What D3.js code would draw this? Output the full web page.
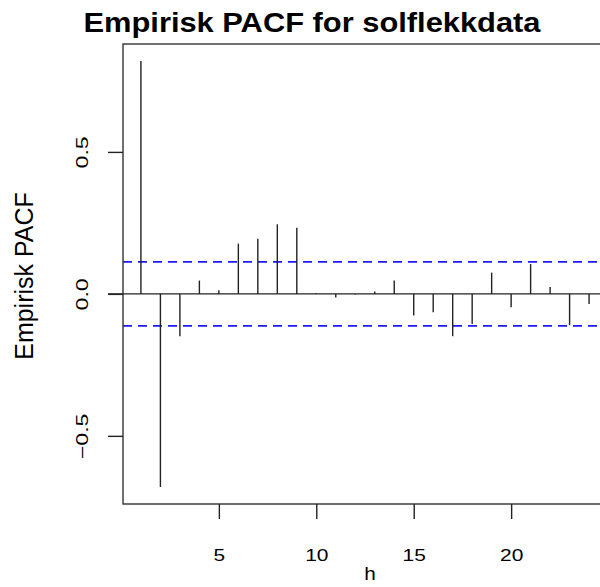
<!DOCTYPE html>
<html>
<head>
<meta charset="utf-8">
<script src="https://cdn.jsdelivr.net/npm/d3@7"></script>
<style>
  body { margin: 0; background: #fff; }
  svg { display: block; }
  text { font-family: "Liberation Sans", Arial, sans-serif; fill: #000; }
</style>
</head>
<body>
<div id="chart"></div>
<script>
// Empirisk PACF for solflekkdata — R style PACF spike plot
const lags = d3.range(1, 25);
const pacf = [0.820, -0.680, -0.149, 0.047, 0.013, 0.177, 0.194, 0.245, 0.233, 0.002,
              -0.013, -0.002, 0.008, 0.047, -0.076, -0.065, -0.149, -0.106, 0.075, -0.047,
              0.105, 0.024, -0.110, -0.036];
const confBound = 0.1127;
const xTicks = [5, 10, 15, 20];
const yTicks = [-0.5, 0.0, 0.5];

(function(){
  const width = 600, height = 587;
  const box = {left: 123, top: 44, bottom: 504};

  const svg = d3.select("#chart").append("svg")
    .attr("width", width)
    .attr("height", height);

  // R style 4% axis extension
  const xr = d3.extent(lags), yr = d3.extent(pacf);
  const xPad = 0.04 * (xr[1] - xr[0]), yPad = 0.04 * (yr[1] - yr[0]);
  const x = d3.scaleLinear()
    .domain([xr[0] - xPad, xr[1] + xPad])
    .range([box.left, 607]);
  const y = d3.scaleLinear()
    .domain([yr[0] - yPad, yr[1] + yPad])
    .range([box.bottom, box.top]);

  // stretch text horizontally like the reference bitmap
  function stretch(sel, k) {
    sel.each(function(){
      const w = this.getComputedTextLength();
      d3.select(this).attr("textLength", w * k).attr("lengthAdjust", "spacingAndGlyphs");
    });
  }

  // zero line (extends past the box to the left)
  svg.append("line")
    .attr("x1", box.left - 15).attr("x2", width + 10)
    .attr("y1", y(0)).attr("y2", y(0))
    .attr("stroke", "#222").attr("stroke-width", 1.4);

  // confidence bounds
  [confBound, -confBound].forEach(v => {
    svg.append("line")
      .attr("x1", box.left).attr("x2", width + 10)
      .attr("y1", y(v)).attr("y2", y(v))
      .attr("stroke", "#1a1aff").attr("stroke-width", 1.6)
      .attr("stroke-dasharray", "9,6");
  });

  // spikes
  svg.selectAll(".spike")
    .data(lags.map((h, i) => ({h, v: pacf[i]})))
    .join("line")
    .attr("class", "spike")
    .attr("x1", d => x(d.h)).attr("x2", d => x(d.h))
    .attr("y1", y(0)).attr("y2", d => y(d.v))
    .attr("stroke", "#222").attr("stroke-width", 1.4);

  // box
  svg.append("rect")
    .attr("x", box.left).attr("y", box.top)
    .attr("width", x.range()[1] - box.left)
    .attr("height", box.bottom - box.top)
    .attr("fill", "none").attr("stroke", "#333").attr("stroke-width", 1.4);

  // x axis
  const xAxis = svg.append("g")
    .attr("transform", `translate(0,${box.bottom})`)
    .call(d3.axisBottom(x).tickValues(xTicks).tickFormat(d3.format("d")).tickSize(15).tickPadding(0));
  xAxis.select(".domain").remove();
  xAxis.selectAll(".tick line").attr("stroke", "#222").attr("stroke-width", 1.4);
  xAxis.selectAll(".tick text")
    .attr("y", 57).attr("dy", null)
    .style("font-family", "Liberation Sans, Arial, sans-serif")
    .style("font-size", "16.5px").attr("fill", "#1a1a1a")
    .call(stretch, 1.27);

  // y axis
  const yAxis = svg.append("g")
    .attr("transform", `translate(${box.left},0)`)
    .call(d3.axisLeft(y).tickValues(yTicks).tickFormat(d3.format(".1f")).tickSize(15).tickPadding(0));
  yAxis.select(".domain").remove();
  yAxis.selectAll(".tick line").attr("stroke", "#222").attr("stroke-width", 1.4);
  yAxis.selectAll(".tick text")
    .attr("x", null).attr("dy", null)
    .attr("text-anchor", "middle")
    .attr("transform", "translate(-35,0) rotate(-90)")
    .style("font-family", "Liberation Sans, Arial, sans-serif")
    .style("font-size", "16.5px").attr("fill", "#1a1a1a")
    .call(stretch, 1.4);

  // axis titles
  svg.append("text")
    .attr("x", 370).attr("y", 580)
    .attr("text-anchor", "middle")
    .attr("fill", "#1a1a1a")
    .style("font-size", "18.5px")
    .text("h")
    .call(stretch, 1.12);

  svg.append("text")
    .attr("transform", "translate(33,276) rotate(-90)")
    .attr("text-anchor", "middle")
    .attr("fill", "#1a1a1a")
    .style("font-size", "25px")
    .text("Empirisk PACF");

  // title
  svg.append("text")
    .attr("x", 312).attr("y", 32)
    .attr("text-anchor", "middle")
    .style("font-size", "27px")
    .style("font-weight", "bold")
    .text("Empirisk PACF for solflekkdata")
    .attr("textLength", 457).attr("lengthAdjust", "spacingAndGlyphs");
})();
</script>
</body>
</html>
